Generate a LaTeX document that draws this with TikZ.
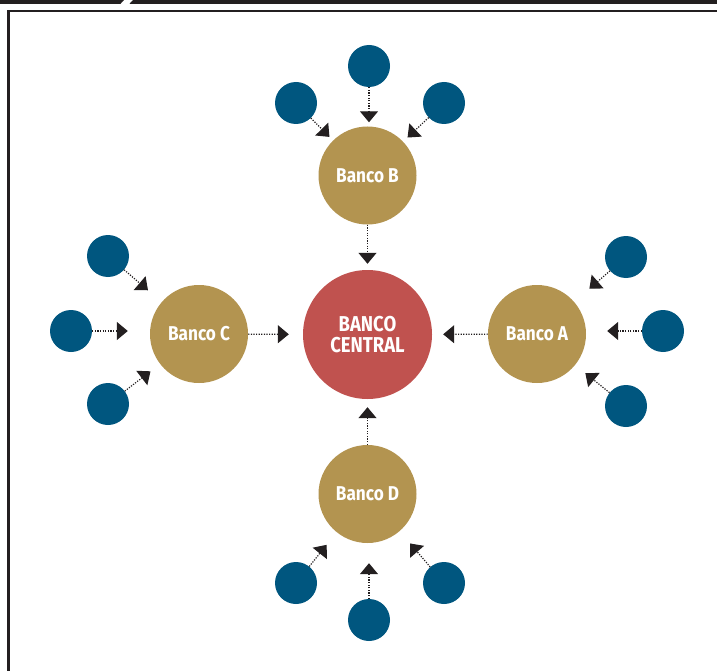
\documentclass[tikz,border=0pt]{standalone}
\usepackage{fontspec}
\setmainfont[FakeStretch=0.86]{Fira Sans}
\usetikzlibrary{arrows.meta}
\definecolor{satblue}{RGB}{0,86,127}
\definecolor{bankgold}{RGB}{179,148,80}
\definecolor{centralred}{RGB}{192,82,79}
\definecolor{inkblack}{RGB}{35,31,32}
\tikzset{
  sat/.style={circle,fill=satblue,minimum size=42pt,inner sep=0pt},
  bank/.style={circle,fill=bankgold,minimum size=98pt,inner sep=0pt,text=white,font=\fontsize{20}{22}\selectfont\bfseries},
  central/.style={circle,fill=centralred,minimum size=129pt,inner sep=0pt,text=white,align=center,font=\fontsize{21.5}{21}\selectfont\bfseries},
  flow/.style={inkblack,line width=1.2pt,dash pattern=on 1.2pt off 1.4pt,-{Triangle[width=18pt,length=11pt]}},
}
\begin{document}
\begin{tikzpicture}[x=1pt,y=-1pt]
\useasboundingbox (0,0) rectangle (717,671);
% top bar
\fill[inkblack] (0,0) -- (124,0) -- (120.5,3.8) -- (0,3.8) -- cycle;
\fill[inkblack] (133,0) -- (717,0) -- (717,3.8) -- (129.5,3.8) -- cycle;
% frame
\draw[inkblack,line width=2.6pt] (8.5,671) -- (8.5,11) -- (717,11);
% main nodes
\node[central] (cen) at (367.5,334.5) {BANCO\\CENTRAL};
\node[bank] (bb) at (367.5,175.5) {Banco B};
\node[bank] (ba) at (537,334) {Banco A};
\node[bank] (bc) at (199,334) {Banco C};
\node[bank] (bd) at (367.5,494) {Banco D};
% satellites
\node[sat] (b1) at (296,103) {};
\node[sat] (b2) at (369,66) {};
\node[sat] (b3) at (444,103) {};
\node[sat] (c1) at (108,256) {};
\node[sat] (c2) at (71,331) {};
\node[sat] (c3) at (108,404) {};
\node[sat] (a1) at (626,257) {};
\node[sat] (a2) at (663,331) {};
\node[sat] (a3) at (626,406) {};
\node[sat] (d1) at (296,583) {};
\node[sat] (d2) at (369,620) {};
\node[sat] (d3) at (444,583) {};
% arrows to banks
\draw[flow,shorten >=5pt] (b1) -- (bb);
\draw[flow,shorten >=4pt] (b2) -- (bb.north -| b2);
\draw[flow,shorten >=6pt] (b3) -- (bb);
\draw[flow,shorten >=18pt] (c1) -- (bc);
\draw[flow,shorten >=22pt] (c2) -- (bc.west |- c2);
\draw[flow,shorten >=12pt] (c3) -- (bc);
\draw[flow,shorten >=20pt] (a1) -- (ba);
\draw[flow,shorten >=21pt] (a2) -- (ba.east |- a2);
\draw[flow,shorten >=13pt] (a3) -- (ba);
\draw[flow,shorten >=16pt] (d1) -- (bd);
\draw[flow,shorten >=20pt] (d2) -- (bd.south -| d2);
\draw[flow,shorten >=16pt] (d3) -- (bd);
% arrows to central
\draw[flow,shorten >=6pt] (bb) -- (cen);
\draw[flow,shorten >=11pt] (ba) -- (cen);
\draw[flow,shorten >=14pt] (bc) -- (cen);
\draw[flow,shorten >=8pt] (bd) -- (cen);
\end{tikzpicture}
\end{document}
